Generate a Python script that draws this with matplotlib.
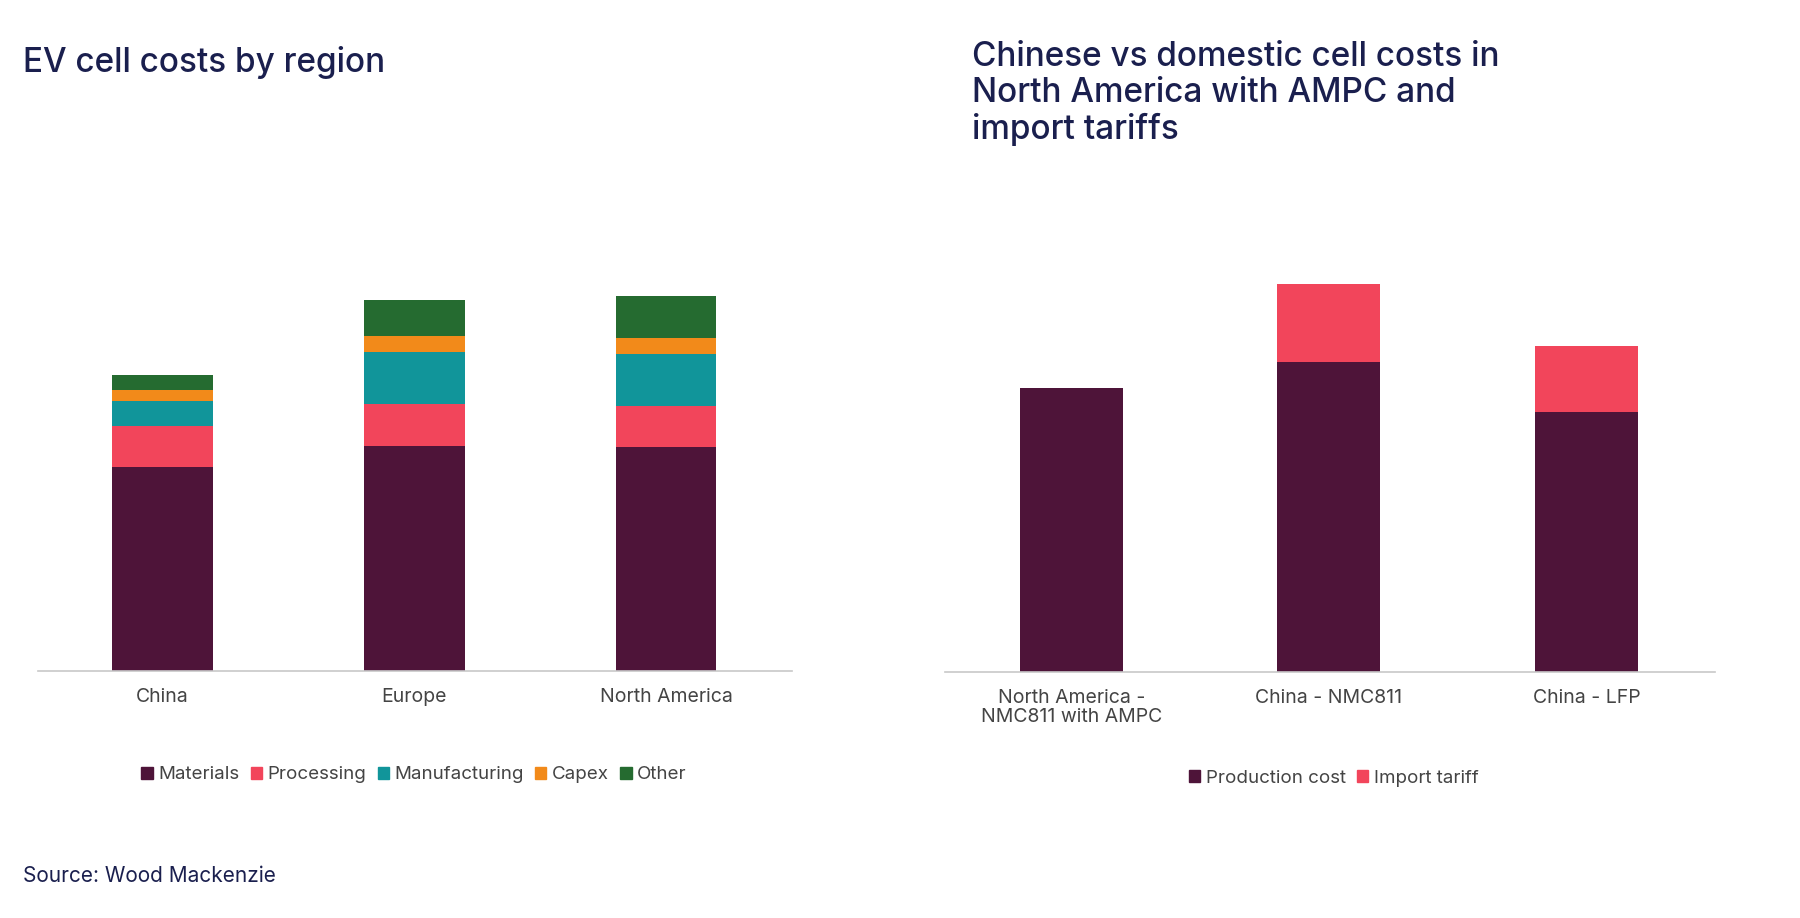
import matplotlib.pyplot as plt
from matplotlib.patches import Patch

# left chart: stacked cost components (arbitrary units)
regions = ["China", "Europe", "North America"]
materials = [177, 195, 194]
processing = [36, 37, 36]
manufacturing = [21, 45, 45]
capex = [10, 14, 14]
other = [13, 31, 36]

# right chart
cases = ["North America -\nNMC811 with AMPC", "China - NMC811", "China - LFP"]
production = [246, 268, 225]
tariff = [0, 68, 57]

NAVY = "#1a1f4e"
C_MAT = "#4e1439"
C_PROC = "#f2455b"
C_MAN = "#11959a"
C_CAP = "#f28a1a"
C_OTH = "#256b30"

plt.rcParams['font.family'] = ['Inter', 'DejaVu Sans']

fig = plt.figure(figsize=(18, 9.18), dpi=100)
ax1 = fig.add_axes([0.021, 0.269, 0.419, 0.442])
ax2 = fig.add_axes([0.525, 0.268, 0.428, 0.443])


def style(ax):
    for s in ["top", "left", "right"]:
        ax.spines[s].set_visible(False)
    ax.spines["bottom"].set_color("#c8c8c8")
    ax.spines["bottom"].set_linewidth(1.2)
    ax.set_yticks([])
    ax.tick_params(axis="x", length=0, pad=12, labelsize=14, labelcolor="#444444")
    ax.set_ylim(0, 352)


x = range(len(regions))
bottom = [0, 0, 0]
series = [(materials, C_MAT, "Materials"), (processing, C_PROC, "Processing"),
          (manufacturing, C_MAN, "Manufacturing"), (capex, C_CAP, "Capex"),
          (other, C_OTH, "Other")]
for vals, col, lab in series:
    ax1.bar(x, vals, 0.4, bottom=bottom, color=col, label=lab)
    bottom = [b + v for b, v in zip(bottom, vals)]
style(ax1)
ax1.set_xlim(-0.495, 2.5)
ax1.set_xticks(list(x))
ax1.set_xticklabels(regions)

x2 = range(len(cases))
ax2.bar(x2, production, 0.4, color=C_MAT, label="Production cost")
ax2.bar(x2, tariff, 0.4, bottom=production, color=C_PROC, label="Import tariff")
style(ax2)
ax2.set_xlim(-0.49, 2.5)
ax2.set_xticks(list(x2))
ax2.set_xticklabels(cases, linespacing=1.1)

leg_kw = dict(frameon=False, ncol=5, fontsize=13.5, handlelength=0.6, handleheight=0.6,
              handletextpad=0.3, columnspacing=0.6, labelcolor="#444444")
h1 = [Patch(color=c, label=l) for _, c, l in series]
fig.legend(handles=h1, loc="center", bbox_to_anchor=(0.23, 0.156), **leg_kw)
h2 = [Patch(color=C_MAT, label="Production cost"), Patch(color=C_PROC, label="Import tariff")]
fig.legend(handles=h2, loc="center", bbox_to_anchor=(0.741, 0.152), **leg_kw)

fig.text(0.013, 0.95, "EV cell costs by region", fontsize=24, color=NAVY,
         va="top", fontweight="medium")
fig.text(0.540, 0.955, "Chinese vs domestic cell costs in\nNorth America with AMPC and\nimport tariffs",
         fontsize=24, color=NAVY, va="top", linespacing=1.15, fontweight="medium")
fig.text(0.013, 0.046, "Source: Wood Mackenzie", fontsize=15, color=NAVY, va="center")

fig.savefig("out.png", dpi=100, facecolor="white")
